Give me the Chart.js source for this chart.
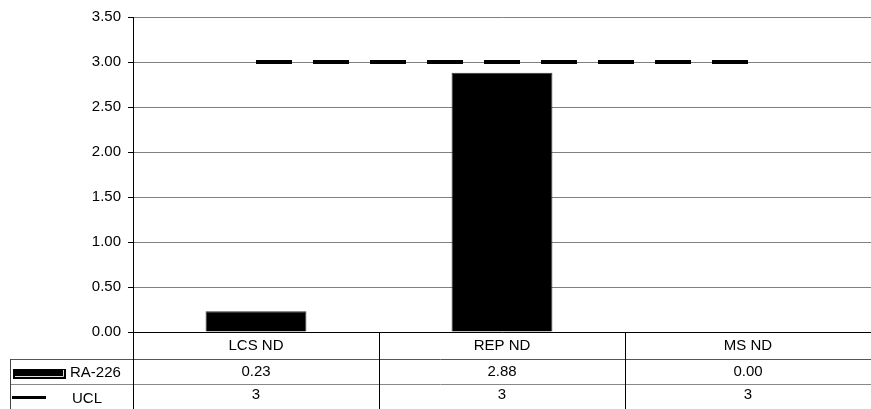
<!DOCTYPE html>
<html>
<head>
<meta charset="utf-8">
<script src="https://cdn.jsdelivr.net/npm/chart.js@4/dist/chart.umd.min.js"></script>
<style>
  html, body { margin: 0; padding: 0; background: #fff; }
  #wrap { width: 871px; height: 409px; }
</style>
</head>
<body>
<div id="wrap"><canvas id="c" width="871" height="409"></canvas></div>
<script>
const categories = ["LCS ND", "REP ND", "MS ND"];
const ra226 = [0.23, 2.88, 0.00];
const ucl = [3, 3, 3];
const seriesNames = ["RA-226", "UCL"];
const yMin = 0, yMax = 3.5, yStep = 0.5;

const FONT = '"Liberation Sans", Arial, sans-serif';

const tablePlugin = {
  id: 'dataTable',
  afterDraw(chart) {
    const ctx = chart.ctx;
    const xs = chart.scales.x;
    const ca = chart.chartArea;
    const b = Math.round(ca.bottom);
    const left = Math.round(ca.left);
    const right = Math.round(ca.right);
    const H = chart.height;
    const row1 = b + 27, row2 = b + 52;
    ctx.save();
    ctx.lineWidth = 1;
    ctx.strokeStyle = '#555';
    ctx.beginPath(); ctx.moveTo(10, row1 + 0.5); ctx.lineTo(right, row1 + 0.5); ctx.stroke();
    ctx.strokeStyle = '#888';
    ctx.beginPath(); ctx.moveTo(10, row2 + 0.5); ctx.lineTo(right, row2 + 0.5); ctx.stroke();
    ctx.strokeStyle = '#444';
    ctx.beginPath(); ctx.moveTo(10.5, row1); ctx.lineTo(10.5, H); ctx.stroke();
    ctx.strokeStyle = '#000';
    ctx.beginPath(); ctx.moveTo(left + 0.5, b); ctx.lineTo(left + 0.5, H); ctx.stroke();
    for (let i = 0; i < categories.length - 1; i++) {
      const x = Math.round((xs.getPixelForValue(i) + xs.getPixelForValue(i + 1)) / 2) + 0.5;
      ctx.beginPath(); ctx.moveTo(x, b); ctx.lineTo(x, H); ctx.stroke();
    }
    ctx.fillStyle = '#000';
    ctx.font = '15px ' + FONT;
    ctx.textAlign = 'center';
    ctx.textBaseline = 'middle';
    categories.forEach((c, i) => {
      const x = xs.getPixelForValue(i);
      ctx.fillText(c, x, b + 14);
      ctx.fillText(ra226[i].toFixed(2), x, b + 40);
      ctx.fillText(String(ucl[i]), x, b + 63);
    });
    // legend keys
    ctx.fillStyle = '#000';
    ctx.fillRect(13, b + 37, 53, 10);
    ctx.strokeStyle = '#ddd';
    ctx.beginPath();
    ctx.moveTo(15, b + 44.5); ctx.lineTo(63.5, b + 44.5); ctx.lineTo(63.5, b + 38);
    ctx.stroke();
    ctx.fillStyle = '#000';
    ctx.fillRect(12, b + 64, 34, 3);
    ctx.textAlign = 'left';
    ctx.fillText(seriesNames[0], 70, b + 41);
    ctx.fillText(seriesNames[1], 72, b + 67);
    ctx.restore();
  }
};

new Chart(document.getElementById('c'), {
  data: {
    labels: categories,
    datasets: [
      {
        type: 'line',
        label: seriesNames[1],
        data: ucl,
        borderColor: '#000',
        borderWidth: 4,
        borderDash: [36, 21],
        borderCapStyle: 'butt',
        pointRadius: 0,
        fill: false,
        order: 0
      },
      {
        type: 'bar',
        label: seriesNames[0],
        data: ra226,
        backgroundColor: '#000',
        borderColor: '#333',
        borderWidth: 1,
        barPercentage: 0.41,
        categoryPercentage: 1.0,
        order: 1
      }
    ]
  },
  options: {
    responsive: false,
    animation: false,
    devicePixelRatio: 1,
    layout: { autoPadding: false, padding: { top: 17, left: 0, right: 0, bottom: 0 } },
    plugins: { legend: { display: false }, tooltip: { enabled: false } },
    scales: {
      x: {
        type: 'category',
        offset: true,
        grid: { display: false },
        border: { display: true, color: '#000', width: 1 },
        ticks: { display: false },
        afterFit(s) { s.height = 77; }
      },
      y: {
        min: yMin,
        max: yMax,
        ticks: {
          stepSize: yStep,
          color: '#000',
          font: { family: FONT, size: 15 },
          padding: 7,
          callback: v => Number(v).toFixed(2)
        },
        grid: { color: '#808080', lineWidth: 1, tickLength: 5, tickColor: '#000' },
        border: { display: true, color: '#000', width: 1 },
        afterFit(s) { s.width = 133; }
      }
    }
  },
  plugins: [tablePlugin]
});
</script>
</body>
</html>
